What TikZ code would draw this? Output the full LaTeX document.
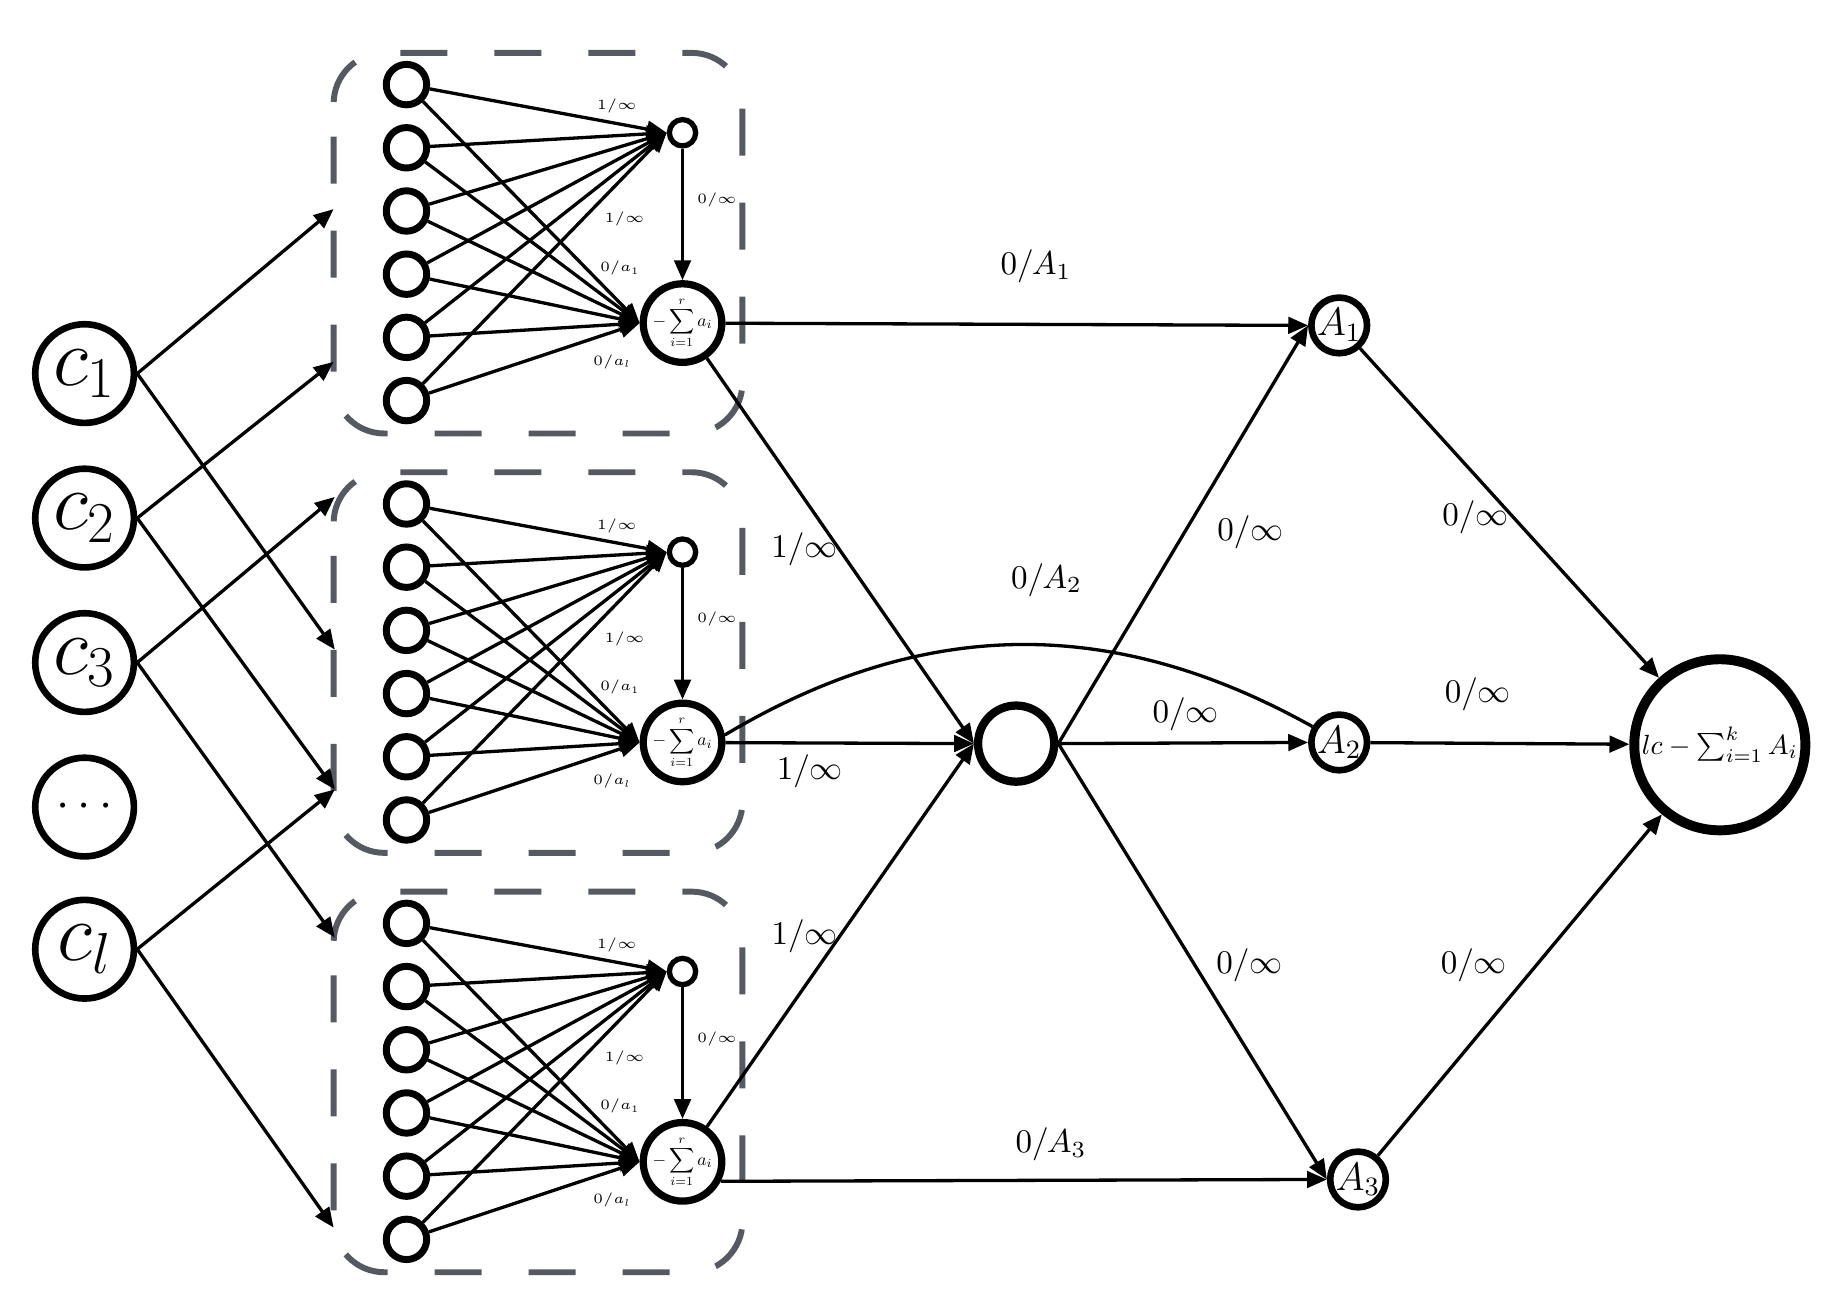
\RequirePackage{fix-cm}
\documentclass[tikz,border=0pt]{standalone}
\usepackage{exscale}
\usetikzlibrary{arrows.meta,positioning}

\definecolor{framegray}{HTML}{545962}

\begin{document}
\begin{tikzpicture}[
  x=0.0125cm, y=-0.0125cm,
  arr/.style={-{Triangle[length=6pt,width=5pt]}, line width=1pt},
  cnode/.style={circle, draw, line width=2pt, minimum size=1.05cm, inner sep=0pt, font=\fontsize{25}{30}\selectfont},
  leaf/.style={circle, draw, line width=2.1pt, minimum size=0.43cm, inner sep=0pt},
  hub/.style={circle, draw, line width=1.6pt, minimum size=0.28cm, inner sep=0pt},
  sumnode/.style={circle, draw, line width=2.2pt, minimum size=0.7cm, inner sep=0pt},
  anode/.style={circle, draw, line width=2pt, minimum size=0.57cm, inner sep=0pt, font=\large},
  midnode/.style={circle, draw, line width=2.5pt, minimum size=0.81cm, inner sep=0pt},
  sink/.style={circle, draw, line width=3pt, minimum size=1.82cm, inner sep=0pt},
  frame/.style={draw=framegray, line width=1.8pt, rounded corners=0.54cm, dash pattern=on 0.5cm off 0.5cm, dash phase=0.65cm},
  lbl/.style={inner sep=0pt, font=\normalsize},
  tiny/.style={inner sep=0pt, font=\fontsize{4.3}{5}\selectfont}
]
\useasboundingbox (0,0) rectangle (1568,1108);

% sources
\node[cnode] (c1) at (72,318) {$c_1$};
\node[cnode] (c2) at (72,441) {$c_2$};
\node[cnode] (c3) at (72,564) {$c_3$};
\node[cnode, font=\Large] (cd) at (72,687) {$\cdots$};
\node[cnode] (cl) at (72,808) {$c_l$};

% gadgets
\foreach \g/\dy in {1/0,2/357,3/714} {
  \draw[frame] (284,45+\dy) rectangle (632,369+\dy);
  \node[hub] (h\g) at (581,113+\dy) {};
  \node[sumnode] (S\g) at (581,275+\dy) {\scalebox{0.53}{$-\displaystyle\sum_{i=1}^{r}a_i$}};
  \foreach \k in {1,...,6}
    \node[leaf] (L\g\k) at (346,{72+53.8*(\k-1)+\dy}) {};
  \foreach \k in {2,...,5} {
    \draw[arr] (L\g\k) -- (h\g.west);
    \draw[arr] (L\g\k) -- (S\g.west);
  }
  \draw[arr] (L\g1) -- node[tiny, pos=0.79, above=0.09cm] (wa\g) {$1/\infty$} (h\g.west);
  \draw[arr] (L\g6) -- node[tiny, pos=0.655, right=0.22cm] (wb\g) {$1/\infty$} (h\g.west);
  \draw[arr] (L\g1) -- node[tiny, pos=0.75, right=0.14cm] (wc\g) {$0/a_1$} (S\g.west);
  \draw[arr] (L\g6) -- node[tiny, pos=0.87, below=0.22cm] (wd\g) {$0/a_l$} (S\g.west);
  \draw[arr] (h\g) -- node[tiny, pos=0.39, right=0.14cm] (wv\g) {$0/\infty$} (S\g);
}

% entry points on the frames
\coordinate (e1) at (284,178);
\coordinate (e2) at (284,308);
\coordinate (e3) at (285,423);
\coordinate (e4) at (285,553);
\coordinate (e5) at (285,672);
\coordinate (e6) at (285,798);
\coordinate (e7) at (284,1045);

\draw[arr] (c1.east) -- (e1);
\draw[arr] (c1.east) -- (e4);
\draw[arr] (c2.east) -- (e2);
\draw[arr] (c2.east) -- (e5);
\draw[arr] (c3.east) -- (e3);
\draw[arr] (c3.east) -- (e6);
\draw[arr] (cl.east) -- (e5);
\draw[arr] (cl.east) -- (e7);

% right part
\node[midnode] (M) at (865,633) {};
\node[anode] (A1) at (1140,277) {$A_1$};
\node[anode] (A2) at (1140,632) {$A_2$};
\node[anode] (A3) at (1156,1004) {$A_3$};
\node[sink] (T) at (1464,634) {\scalebox{0.84}{$lc-\sum_{i=1}^{k}A_i$}};

\draw[arr] (S1) -- node[lbl, pos=0.533, above=0.43cm] (lS1) {$0/A_1$} (A1.west);
\draw[arr] (S1) -- node[lbl, pos=0.495, left=0pt] (lS1M) {$1/\infty$} (M.west);
\draw[arr] (S2) -- node[lbl, pos=0.34, below=0.11cm] (lS2M) {$1/\infty$} (M.west);
\draw[arr] (S3) -- node[lbl, pos=0.496, left=0pt] (lS3M) {$1/\infty$} (M.west);
\draw[line width=1pt] (S2.10) to[bend left=30] node[lbl, pos=0.55, above=0.5cm] (lS2) {$0/A_2$} (A2);
\draw[arr] (S3.-27) -- node[lbl, pos=0.545, above=0.19cm] (lS3) {$0/A_3$} (A3.west);

\draw[arr] (M.east) -- node[lbl, pos=0.506, right=0.33cm] (lM1) {$0/\infty$} (A1.west);
\draw[arr] (M.east) -- node[lbl, pos=0.51, above=0.11cm] (lM2) {$0/\infty$} (A2.west);
\draw[arr] (M.east) -- node[lbl, pos=0.509, right=0.21cm] (lM3) {$0/\infty$} (A3.west);

\draw[arr] (A1) -- node[lbl, pos=0.514, left=0.04cm] (lA1) {$0/\infty$} (T);
\draw[arr] (A2) -- node[lbl, pos=0.415, above=0.33cm] (lA2) {$0/\infty$} (T);
\draw[arr] (A3) -- node[lbl, pos=0.559, left=0.3cm] (lA3) {$0/\infty$} (T);

\end{tikzpicture}
\end{document}
